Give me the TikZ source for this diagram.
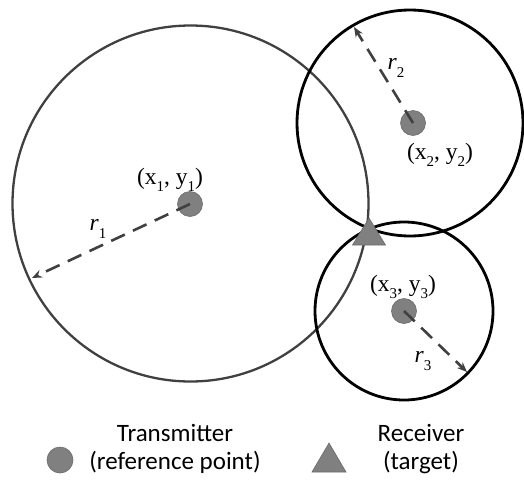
\documentclass[tikz,border=0pt]{standalone}
\usepackage{fontspec}
\setmainfont{Liberation Serif}
\newfontfamily\legendfont{Carlito}
\usetikzlibrary{arrows.meta}
\definecolor{dotgray}{HTML}{808080}
\definecolor{dotedge}{HTML}{6A6A6A}
\definecolor{dark}{HTML}{404040}
\newcommand{\lsub}[1]{\raisebox{-0.32em}{\fontsize{15}{15}\selectfont #1}}
\begin{document}
\begin{tikzpicture}[x=1pt,y=-1pt,
  refdot/.style={circle,fill=dotgray,draw=dotedge,line width=0.6pt,minimum size=25pt,inner sep=0pt},
  rxtri/.style={draw=dotedge,fill=dotgray,line width=0.6pt},
  radarrow/.style={dark,line width=2.6pt,dash pattern=on 15pt off 9pt,-{Stealth[length=10pt,width=8pt]}},
  bigcirc/.style={dark,line width=2.3pt},
  smallcirc/.style={black,line width=2.8pt},
  mlabel/.style={font=\fontsize{23.5}{25}\selectfont,inner sep=0pt},
  leg/.style={font=\legendfont\fontsize{25}{28}\selectfont,inner sep=0pt}]
\useasboundingbox (0,0) rectangle (524,482);
% circles
\draw[bigcirc] (190.5,203.5) circle (178);
\draw[smallcirc] (410,123) circle (113);
\draw[smallcirc] (404,311) circle (89);
% reference points
\node[refdot] (p1) at (190,204) {};
\node[refdot] (p2) at (413,123) {};
\node[refdot] (p3) at (404,311) {};
% receiver
\draw[rxtri] (352.5,245) -- (369,218) -- (385.5,245) -- cycle;
% radius arrows
\coordinate (e1) at (32,278);
\coordinate (e2) at (354,27);
\coordinate (e3) at (467,372);
\draw[radarrow] (p1.center) -- (e1);
\draw[radarrow] (p2.center) -- (e2);
\draw[radarrow] (p3.center) -- (e3);
% labels
\node[mlabel] (l1) at (170,180) {(x\lsub{1}, y\lsub{1})};
\node[mlabel] (l2) at (440,155) {(x\lsub{2}, y\lsub{2})};
\node[mlabel] (l3) at (403,287) {(x\lsub{3}, y\lsub{3})};
\node[mlabel] (r1) at (98,229) {\textit{r}\lsub{1}};
\node[mlabel] (r2) at (396,68) {\textit{r}\lsub{2}};
\node[mlabel] (r3) at (423,361) {\textit{r}\lsub{3}};
% legend
\node[refdot,minimum size=26pt] (ld) at (60,460) {};
\node[leg] (lt1) at (175,433) {Transmitter};
\node[leg] (lt2) at (175,462) {(reference point)};
\draw[rxtri] (312,472) -- (329,443) -- (346,472) -- cycle;
\node[leg] (lr1) at (421,433) {Receiver};
\node[leg] (lr2) at (421,462) {(target)};
\end{tikzpicture}
\end{document}
